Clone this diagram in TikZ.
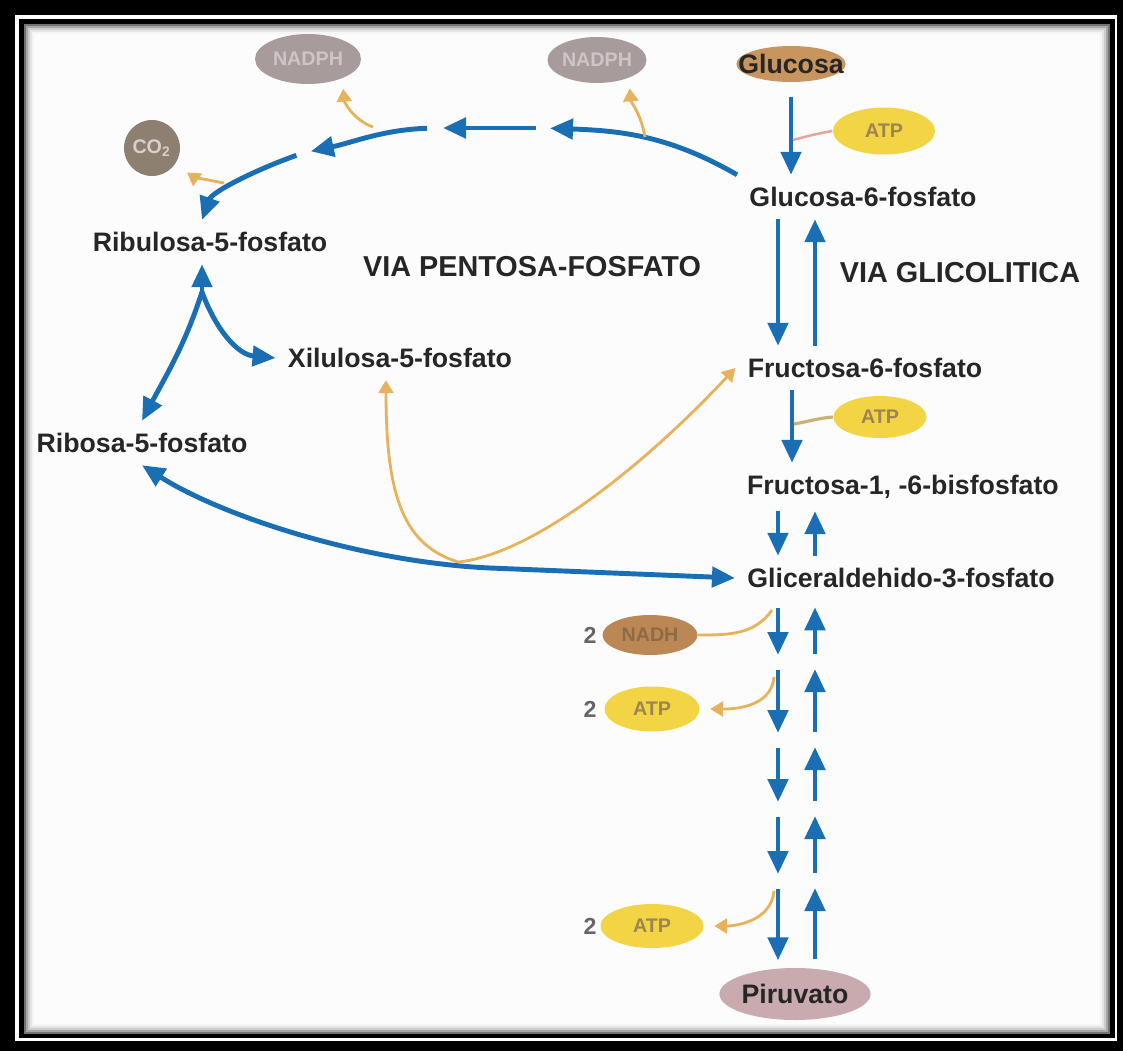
\documentclass[tikz,border=0pt]{standalone}
\usepackage{fontspec}
\setmainfont{Liberation Sans}
\usepackage{xcolor}
\usetikzlibrary{positioning, shapes.geometric, arrows.meta, calc}

\definecolor{pathblue}{HTML}{1A6EB4}
\definecolor{sidegold}{HTML}{E6B35C}
\definecolor{atpline}{HTML}{E8A49A}
\definecolor{atpline2}{HTML}{C9B274}
\definecolor{nadphfill}{HTML}{A89B9C}
\definecolor{nadphtext}{HTML}{CFC5C6}
\definecolor{glcfill}{HTML}{C9955F}
\definecolor{atpfill}{HTML}{F2D444}
\definecolor{atptext}{HTML}{9C8552}
\definecolor{cofill}{HTML}{8E8071}
\definecolor{cotext}{HTML}{D9D1C9}
\definecolor{nadhfill}{HTML}{BA8755}
\definecolor{nadhtext}{HTML}{8C6B45}
\definecolor{pirfill}{HTML}{C8AAAF}

\begin{document}
\begin{tikzpicture}[
    >={Triangle[length=2.3mm, width=2mm]},
    every node/.style={font=\fontsize{7.6}{9}\selectfont\bfseries, text=black!85},
    vialabel/.style={font=\fontsize{8.2}{10}\selectfont\bfseries},
    cofac/.style={ellipse, inner sep=0pt, font=\fontsize{5.6}{7}\selectfont\bfseries},
    count/.style={font=\fontsize{6.6}{8}\selectfont\bfseries, text=black!60},
    flux/.style={pathblue, line width=1.4pt, ->},
    stepflux/.style={flux, shorten <=0.08cm, shorten >=0.07cm},
    side/.style={sidegold, line width=0.8pt, -{Triangle[length=1.3mm, width=1.5mm]}},
    sideline/.style={sidegold, line width=0.8pt},
  ]
  \useasboundingbox (0,0) rectangle (11.23,-10.51);

  % double frame with a soft inner shadow
  \fill[black] (0,0) rectangle (11.23,-10.51);
  \fill[white] (0.15,-0.15) rectangle (11.17,-10.41);
  \fill[black] (0.19,-0.19) rectangle (11.15,-10.38);
  \foreach \d/\c in {0.24/55,0.26/35,0.28/20,0.30/10,0.32/4,0.34/1}
    \fill[black!\c] (\d,-\d) rectangle (11.34-\d,-10.58+\d);

  % metabolites
  \node[ellipse, fill=glcfill, inner xsep=-4pt, inner ysep=0pt, minimum height=0.36cm] (glc) at (7.91,-0.64) {Glucosa};
  \node (g6p) at (8.63,-1.97) {Glucosa-6-fosfato};
  \node (f6p) at (8.65,-3.68) {Fructosa-6-fosfato};
  \node (f16) at (9.03,-4.87) {Fructosa-1, -6-bisfosfato};
  \node (ga3p) at (9.01,-5.78) {Gliceraldehido-3-fosfato};
  \node[ellipse, fill=pirfill, inner sep=0pt, minimum width=1.49cm, minimum height=0.52cm] (pir) at (7.95,-9.94) {Piruvato};
  \node (ribu) at (2.10,-2.42) {Ribulosa-5-fosfato};
  \node (xil) at (4.00,-3.58) {Xilulosa-5-fosfato};
  \node (ribo) at (1.42,-4.43) {Ribosa-5-fosfato};

  \node[vialabel] (pent) at (5.32,-2.67) {VIA PENTOSA-FOSFATO};
  \node[vialabel] (glic) at (9.60,-2.73) {VIA GLICOLITICA};

  % cofactors
  \node[cofac, fill=nadphfill, text=nadphtext, minimum width=1.06cm, minimum height=0.50cm] (nadph1) at (3.08,-0.59) {NADPH};
  \node[cofac, fill=nadphfill, text=nadphtext, minimum width=0.98cm, minimum height=0.46cm] (nadph2) at (5.97,-0.60) {NADPH};
  \node[circle, fill=cofill, text=cotext, inner sep=0pt, minimum size=0.56cm,
        font=\fontsize{5.6}{7}\selectfont\bfseries] (co2) at (1.52,-1.48) {CO\textsubscript{2}};
  \node[cofac, fill=atpfill, text=atptext, minimum width=1.02cm, minimum height=0.47cm] (atp1) at (8.84,-1.31) {ATP};
  \node[cofac, fill=atpfill, text=atptext, minimum width=0.93cm, minimum height=0.42cm] (atp2) at (8.80,-4.17) {ATP};
  \node[cofac, fill=nadhfill, text=nadhtext, minimum width=0.95cm, minimum height=0.40cm] (nadh) at (6.50,-6.35) {NADH};
  \node[cofac, fill=atpfill, text=atptext, minimum width=0.95cm, minimum height=0.45cm] (atp3) at (6.52,-7.09) {ATP};
  \node[cofac, fill=atpfill, text=atptext, minimum width=1.03cm, minimum height=0.44cm] (atp4) at (6.52,-9.26) {ATP};
  \node[count] (two1) at (5.90,-6.35) {2};
  \node[count] (two2) at (5.90,-7.09) {2};
  \node[count] (two3) at (5.90,-9.26) {2};

  % glycolysis column
  \coordinate (dn) at (7.78,0);
  \coordinate (mid) at (7.92,0);
  \coordinate (up) at (8.15,0);
  \draw[flux, shorten <=1.4mm] (glc.south) -- (glc.south |- g6p.north);
  \draw[flux] (g6p.south -| dn) -- (f6p.north -| dn);
  \draw[flux] (f6p.north -| up) -- (g6p.south -| up);
  \draw[flux] (f6p.south -| mid) -- (f16.north -| mid);
  \draw[flux] (f16.south -| dn) -- (ga3p.north -| dn);
  \draw[flux] (ga3p.north -| up) -- (f16.south -| up);

  \foreach \i/\y in {1/6.62,2/7.40,3/8.09,4/8.81}
    \coordinate (st\i) at (7.97,-\y);
  \foreach \a/\b in {ga3p.south/st1,st1/st2,st2/st3,st3/st4,st4/pir.north} {
    \draw[stepflux] (\a -| dn) -- (\b -| dn);
    \draw[stepflux] (\b -| up) -- (\a -| up);
  }

  \coordinate (tap1) at (7.93,-1.40);
  \coordinate (tap2) at (7.94,-4.24);
  \draw[atpline, line width=0.7pt] (atp1.west) to[out=190, in=15] (tap1);
  \draw[atpline2, line width=0.9pt] (atp2.west) to[out=185, in=10] (tap2);

  \coordinate (tapn) at (7.72,-6.10);
  \coordinate (tapt1) at (7.74,-6.77);
  \coordinate (tapt2) at (7.74,-8.91);
  \draw[sideline] (tapn) to[out=-125, in=0] (nadh.east);
  \draw[side, shorten >=1mm] (tapt1) to[out=-95, in=0] (atp3.east);
  \draw[side, shorten >=1mm] (tapt2) to[out=-95, in=0] (atp4.east);

  % pentose phosphate branch
  \coordinate (pp1) at (5.43,-1.28);
  \coordinate (pp2) at (4.35,-1.28);
  \coordinate (pp3) at (3.03,-1.53);
  \draw[flux, shorten >=0.07cm] (g6p.north west) to[out=150, in=-2] (pp1);
  \draw[flux, shorten <=0.07cm, shorten >=0.08cm] (pp1) -- (pp2);
  \draw[flux, shorten <=0.08cm, shorten >=0.08cm] (pp2) to[out=182, in=12] (pp3);
  \draw[flux, shorten <=0.07cm] (pp3) .. controls (2.55,-1.70) and (2.12,-1.92) .. ([xshift=-0.08cm]ribu.north);

  \coordinate (tapa) at (6.45,-1.37);
  \coordinate (tapb) at (3.73,-1.27);
  \coordinate (tapc) at (2.24,-1.83);
  \draw[side, shorten >=1mm] (tapa) to[out=100, in=-85] (nadph2.-30);
  \draw[side, shorten >=1mm] (tapb) to[out=160, in=-85] (nadph1.-30);
  \draw[side, shorten >=1.4mm] (tapc) to[out=170, in=-35] (co2.-35);

  \coordinate (fork) at (2.02,-2.92);
  \draw[flux] (fork) -- (ribu.south -| fork);
  \draw[flux] (fork) to[out=-108, in=62] (ribo.north);
  \draw[flux] (fork) to[out=-70, in=175] (xil.west);

  \draw[flux, <->] (ribo.south) .. controls (2.2,-5.15) and (3.6,-5.62) .. (4.9,-5.68) -- (ga3p.west);

  \coordinate (src) at (4.58,-5.62);
  \draw[side] (src) .. controls (4.05,-5.45) and (3.86,-5.0) .. ([xshift=-0.14cm]xil.south);
  \draw[side] (src) .. controls (5.3,-5.55) and (6.4,-4.7) .. (f6p.west);
\end{tikzpicture}
\end{document}
